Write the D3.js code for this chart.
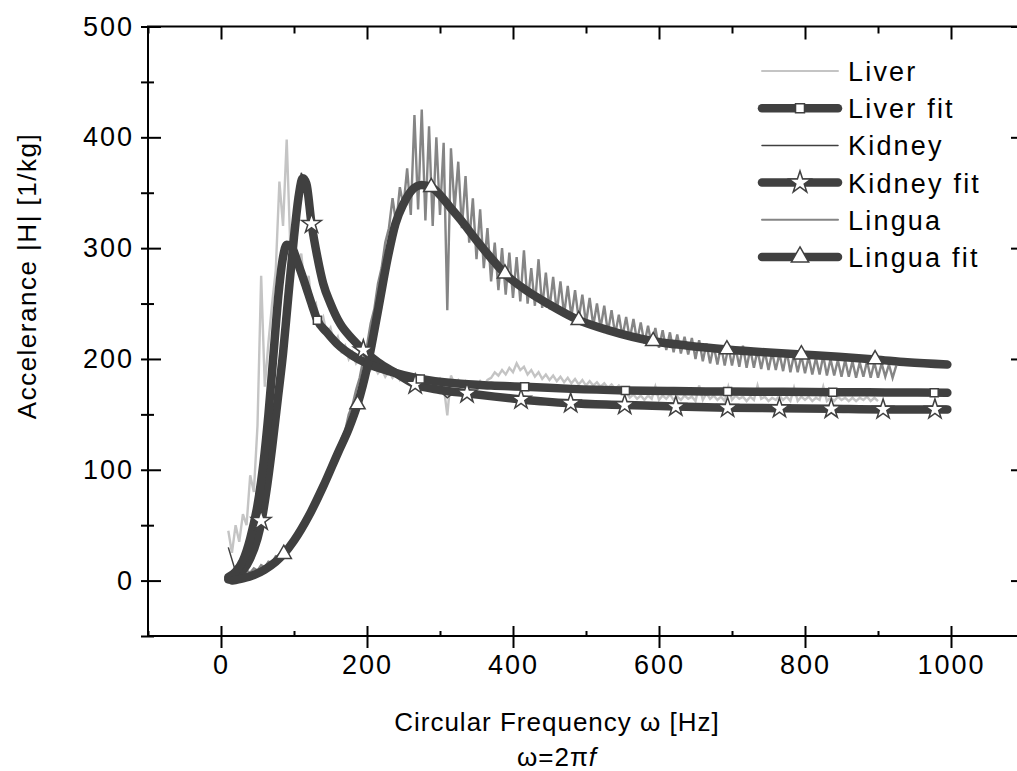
<!DOCTYPE html>
<html>
<head>
<meta charset="utf-8">
<script src="https://cdn.jsdelivr.net/npm/d3@7"></script>
<style>
  body { margin: 0; background: #fff; }
  svg { display: block; font-family: Arial, "Liberation Sans", sans-serif; }
</style>
</head>
<body>
<svg id="chart" width="1017" height="771"></svg>
<script>
// axis ticks
const xTicks = [0, 200, 400, 600, 800, 1000];
const xMinor = [-100, 100, 300, 500, 700, 900];
const yTicks = [0, 100, 200, 300, 400, 500];
const yMinor = [-50, 50, 150, 250, 350, 450];

const legendLabels = ["Liver", "Liver fit", "Kidney", "Kidney fit", "Lingua", "Lingua fit"];

// raw measurements, sampled every 5 Hz (kidney every 10 Hz) from 10 Hz
const rawStart = 10, rawStep = 5, kidneyStep = 10;
const liverRaw = [
  45, 25, 50, 35, 60, 50, 95, 80, 140, 275, 175, 215, 250, 280, 360, 320, 398, 300, 300, 285,
  295, 260, 275, 245, 250, 232, 238, 222, 228, 214, 220, 207, 212, 200, 206, 196, 201, 192, 197, 190,
  194, 187, 191, 184, 189, 183, 187, 181, 186, 180, 184, 179, 183, 178, 183, 176, 181, 177, 182, 176,
  149, 185, 177, 181, 176, 180, 176, 179, 175, 180, 176, 181, 183, 188, 185, 190, 186, 192, 188, 196,
  190, 193, 186, 190, 184, 188, 182, 186, 181, 185, 180, 184, 179, 183, 178, 182, 177, 181, 176, 180,
  176, 179, 175, 178, 174, 177, 173, 176, 172, 170, 165, 168, 164, 167, 163, 167, 164, 175, 163, 167,
  164, 168, 163, 166, 163, 167, 164, 166, 162, 176, 163, 169, 164, 167, 163, 166, 162, 175, 163, 167,
  164, 166, 162, 166, 163, 176, 164, 166, 162, 165, 163, 167, 163, 166, 162, 174, 162, 166, 163, 166,
  162, 165, 163, 175, 162, 165, 162, 166, 163, 165, 162, 165, 162, 165, 163, 166, 162, 165, 162
];
const kidneyRaw = [
  30, 8, 12, 22, 42, 72, 118, 178, 245, 315, 368, 345, 298, 270, 252, 232, 222, 214, 210, 204,
  199, 195, 191, 187, 183, 179, 177, 174, 173, 171, 165, 170, 168, 168, 166, 166, 165, 165, 163, 164,
  162, 163, 161, 162, 160, 161, 159, 160, 158, 159, 157, 158, 157, 158, 156, 157, 156, 157, 155, 156,
  155, 156, 154, 156, 154, 155, 154, 155, 153, 155, 154, 155, 153, 155, 154, 155, 153, 155, 153, 155,
  154, 155, 153, 155, 153, 154, 153, 155, 153, 154, 153, 154
];
const linguaRaw = [
  5, 8, 4, 7, 5, 9, 7, 11, 9, 14, 12, 17, 16, 22, 21, 28, 27, 34, 36, 42,
  44, 52, 55, 63, 67, 76, 80, 91, 96, 108, 114, 128, 135, 150, 158, 172, 183, 200, 212, 232,
  245, 268, 282, 305, 318, 345, 322, 355, 338, 372, 330, 420, 335, 425, 325, 410, 320, 400, 330, 395,
  244, 390, 335, 378, 318, 365, 305, 345, 290, 335, 282, 318, 270, 305, 262, 300, 258, 296, 255, 292,
  252, 298, 250, 282, 248, 290, 246, 278, 245, 274, 242, 270, 240, 266, 238, 262, 236, 258, 232, 255,
  230, 250, 228, 248, 224, 244, 222, 240, 220, 238, 218, 236, 216, 233, 214, 230, 212, 228, 210, 226,
  208, 224, 206, 222, 205, 220, 204, 219, 200, 217, 198, 214, 196, 212, 195, 212, 194, 211, 194, 210,
  193, 212, 192, 209, 192, 208, 191, 207, 190, 206, 190, 205, 189, 207, 188, 204, 188, 203, 187, 202,
  186, 201, 186, 203, 185, 200, 185, 199, 184, 199, 184, 198, 183, 197, 184, 198, 183, 197, 183, 196,
  184, 195, 183, 194
];

// fitted curves
const liverFitX = [10, 20, 30, 40, 50, 58, 65, 72, 79, 85, 90, 96, 105, 115, 125, 132, 145, 160, 180, 200, 230, 273, 320, 370, 416, 480, 554, 620, 694, 770, 838, 910, 995];
const liverFitY = [3, 8, 18, 38, 68, 105, 150, 205, 260, 292, 303, 302, 287, 268, 248, 235, 224, 213, 203, 196, 189, 182, 178, 176, 175, 173, 171.6, 171, 170.6, 170.3, 170, 169.8, 169.5];
const kidneyFitX = [10, 20, 30, 40, 50, 55, 62, 70, 78, 85, 92, 100, 106, 112, 117, 124, 132, 140, 150, 163, 180, 195, 215, 240, 266, 300, 337, 375, 411, 445, 479, 553, 623, 694, 765, 836, 907, 995];
const kidneyFitY = [1, 4, 9, 20, 38, 52, 80, 120, 165, 205, 255, 310, 345, 363, 358, 322, 292, 268, 250, 232, 218, 208, 197, 187, 177, 172, 169, 166, 163.5, 161.5, 160, 158.5, 157, 156, 155.5, 155, 154.5, 154.5];
const linguaFitX = [15, 30, 45, 60, 75, 86, 100, 120, 140, 160, 175, 187, 200, 216, 228, 239, 250, 261, 275, 288, 300, 315, 329, 350, 370, 389, 420, 450, 490, 530, 592, 640, 693, 745, 795, 846, 896, 940, 995];
const linguaFitY = [0, 2, 5, 10, 17, 24, 36, 58, 85, 115, 137, 159, 192, 247, 290, 322, 340, 352, 357, 355, 348, 336, 325, 307, 291, 277, 261, 249, 235, 226, 216, 212, 208.6, 206, 204, 202, 199.6, 197, 195];

// symbol positions on the fits
const liverMarkX = [132, 273, 416, 554, 694, 838, 977];
const liverMarkY = [235, 182, 175, 171.6, 170.6, 170, 169.6];
const kidneyMarkX = [55, 124, 195, 266, 337, 411, 479, 553, 623, 694, 765, 836, 907, 978];
const kidneyMarkY = [54, 322, 208, 177, 169, 163.5, 160, 158.5, 157, 156, 155.5, 155, 154.5, 154.5];
const linguaMarkX = [86, 187, 288, 389, 490, 592, 693, 795, 896];
const linguaMarkY = [24, 159, 355, 277, 235, 216, 208.6, 204, 199.6];

const fitColor = "#404040";
const fontStack = "Arial, 'Liberation Sans', sans-serif";
const svg = d3.select("#chart");

const x = d3.scaleLinear().domain([-100, 1100]).range([148, 1024]);
const y = d3.scaleLinear().domain([-50, 500]).range([636, 26.5]);

const sampled = (vals, start, step) => vals.map((v, i) => [start + i * step, v]);
const pairs = (xs, ys) => xs.map((v, i) => [v, ys[i]]);

const rawLine = d3.line().x(d => x(d[0])).y(d => y(d[1]));
const fitLine = d3.line().curve(d3.curveMonotoneX).x(d => x(d[0])).y(d => y(d[1]));

// raw data
svg.append("path").attr("d", rawLine(sampled(liverRaw, rawStart, rawStep)))
  .attr("fill", "none").attr("stroke", "#c4c4c4").attr("stroke-width", 2.4);
svg.append("path").attr("d", rawLine(sampled(kidneyRaw, rawStart, kidneyStep)))
  .attr("fill", "none").attr("stroke", "#404040").attr("stroke-width", 1.5);
svg.append("path").attr("d", rawLine(sampled(linguaRaw, rawStart, rawStep)))
  .attr("fill", "none").attr("stroke", "#858585").attr("stroke-width", 2.4);

// fits
[[kidneyFitX, kidneyFitY], [liverFitX, liverFitY], [linguaFitX, linguaFitY]].forEach(([xs, ys]) => {
  svg.append("path").attr("d", fitLine(pairs(xs, ys)))
    .attr("fill", "none").attr("stroke", fitColor).attr("stroke-width", 8.5)
    .attr("stroke-linejoin", "round").attr("stroke-linecap", "round");
});

const sym = (type, size) => d3.symbol().type(type).size(size)();
function marks(xs, ys, type, size) {
  svg.append("g").selectAll("path").data(pairs(xs, ys)).join("path")
    .attr("d", sym(type, size))
    .attr("transform", d => `translate(${x(d[0])},${y(d[1])})`)
    .attr("fill", "#fff").attr("stroke", fitColor).attr("stroke-width", 1.5);
}
marks(kidneyMarkX, kidneyMarkY, d3.symbolStar, 120);
marks(liverMarkX, liverMarkY, d3.symbolSquare, 64);
marks(linguaMarkX, linguaMarkY, d3.symbolTriangle, 100);

// frame and axes
const noLabel = () => "";
function ax(gen, pos, vals, size, labels) {
  const a = gen(pos === "x" ? x : y).tickValues(vals).tickSize(size);
  a.tickFormat(labels ? d3.format("d") : noLabel);
  return a;
}
const axisStyle = g => {
  g.select(".domain").remove();
  g.selectAll(".tick line").attr("stroke", "#000").attr("stroke-width", 2);
};
const labelStyle = g => g.selectAll("text").attr("font-size", 27).attr("fill", "#000")
  .style("letter-spacing", "2px").attr("font-family", fontStack);

// bottom
svg.append("g").attr("transform", "translate(0,636)")
  .call(ax(d3.axisBottom, "x", xTicks, 12, true).tickPadding(7)).call(axisStyle).call(labelStyle);
svg.append("g").attr("transform", "translate(0,636)").call(ax(d3.axisTop, "x", xTicks, 10)).call(axisStyle);
svg.append("g").attr("transform", "translate(0,636)").call(ax(d3.axisTop, "x", xMinor, 5)).call(axisStyle);
// top
svg.append("g").attr("transform", "translate(0,26.5)").call(ax(d3.axisBottom, "x", xTicks, 13)).call(axisStyle);
svg.append("g").attr("transform", "translate(0,26.5)").call(ax(d3.axisBottom, "x", xMinor, 7)).call(axisStyle);
// left
svg.append("g").attr("transform", "translate(148,0)")
  .call(ax(d3.axisLeft, "y", yTicks, 7, true).tickPadding(7)).call(axisStyle).call(labelStyle);
svg.append("g").attr("transform", "translate(148,0)").call(ax(d3.axisRight, "y", yTicks, 13)).call(axisStyle);
svg.append("g").attr("transform", "translate(148,0)").call(ax(d3.axisLeft, "y", yMinor, 7)).call(axisStyle);
svg.append("g").attr("transform", "translate(148,0)").call(ax(d3.axisRight, "y", yMinor, 6)).call(axisStyle);
// right
svg.append("g").attr("transform", "translate(1024,0)").call(ax(d3.axisLeft, "y", yTicks, 13)).call(axisStyle);
svg.append("g").attr("transform", "translate(1024,0)").call(ax(d3.axisLeft, "y", yMinor, 7)).call(axisStyle);

svg.append("rect").attr("x", x(-100)).attr("y", y(500))
  .attr("width", x(1100) - x(-100)).attr("height", y(-50) - y(500))
  .attr("fill", "none").attr("stroke", "#000").attr("stroke-width", 2);

// axis titles
svg.append("text").attr("transform", "translate(36,276) rotate(-90)")
  .attr("text-anchor", "middle").attr("font-size", 26).style("letter-spacing", "1.5px")
  .text("Accelerance |H| [1/kg]");
svg.append("text").attr("x", 557).attr("y", 731).attr("text-anchor", "middle")
  .attr("font-size", 26).style("letter-spacing", "1px")
  .text("Circular Frequency ω [Hz]");
const t2 = svg.append("text").attr("x", 557).attr("y", 766).attr("text-anchor", "middle")
  .attr("font-size", 26).style("letter-spacing", "1px");
t2.append("tspan").text("ω=2π");
t2.append("tspan").attr("font-style", "italic").text("f");

// legend
const legendStyles = [
  { color: "#c4c4c4", width: 2 },
  { color: fitColor, width: 8.5, type: d3.symbolSquare, size: 80 },
  { color: "#404040", width: 1.5 },
  { color: fitColor, width: 8.5, type: d3.symbolStar, size: 150 },
  { color: "#858585", width: 2 },
  { color: fitColor, width: 8.5, type: d3.symbolTriangle, size: 130 }
];
const legend = svg.append("g").attr("transform", "translate(762,71)");
legendLabels.forEach((label, i) => {
  const st = legendStyles[i];
  const row = legend.append("g").attr("transform", `translate(0,${i * 37.2})`);
  row.append("line").attr("x1", 0).attr("x2", 76)
    .attr("stroke", st.color).attr("stroke-width", st.width).attr("stroke-linecap", "round");
  if (st.type) {
    row.append("path").attr("d", sym(st.type, st.size)).attr("transform", "translate(38,0)")
      .attr("fill", "#fff").attr("stroke", fitColor).attr("stroke-width", 1.5);
  }
  row.append("text").attr("x", 86).attr("y", 10).attr("font-size", 27)
    .style("letter-spacing", "2.2px").text(label);
});
</script>
</body>
</html>
